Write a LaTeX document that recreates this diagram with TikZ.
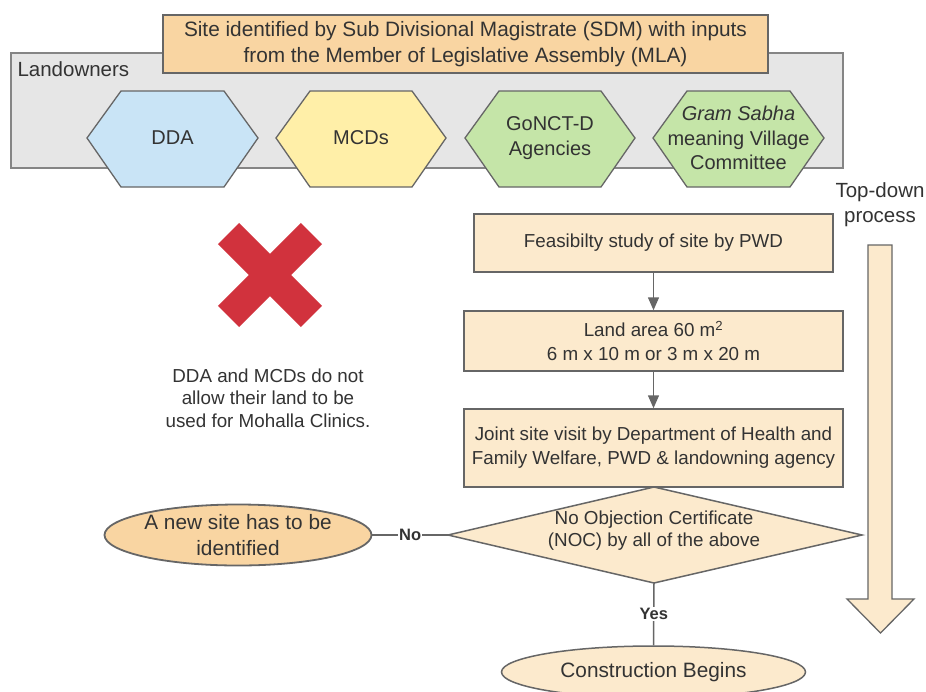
\documentclass[tikz,border=0pt]{standalone}
\usepackage{fontspec}
\setmainfont{Liberation Sans}
\usetikzlibrary{shapes.geometric,arrows.meta}
\definecolor{orng}{HTML}{F9D5A2}
\definecolor{lorng}{HTML}{FCEACD}
\definecolor{bluehex}{HTML}{C9E4F6}
\definecolor{yelhex}{HTML}{FFEFA8}
\definecolor{grnhex}{HTML}{C5E5A8}
\definecolor{grayfill}{HTML}{E6E6E6}
\definecolor{edge}{HTML}{666666}
\definecolor{txt}{HTML}{333333}
\definecolor{redx}{HTML}{D1323D}
\tikzset{
  bx/.style={draw=edge, line width=1.5pt, text=txt, align=center, inner sep=0pt},
  flowbox/.style={bx, fill=lorng, font=\fontsize{18.8}{24}\selectfont},
  hexshape/.style={draw=edge, line width=1.3pt},
  hextext/.style={text=txt, align=center, font=\fontsize{20}{24.5}\selectfont},
  conn/.style={draw=edge, line width=1.5pt},
  arr/.style={conn, -{Triangle[length=13pt,width=11pt]}},
  lbl/.style={fill=white, text=txt, font=\bfseries\fontsize{16.5}{18}\selectfont, inner sep=1pt}
}
\newcommand{\hexa}[6]{%
  \path[hexshape, fill=#5] (#2-#3,138) -- (#2-#3+#4,91) -- (#2+#3-#4,91) -- (#2+#3,138) -- (#2+#3-#4,187) -- (#2-#3+#4,187) -- cycle;
  \node[hextext] (#1) at (#2,138) {#6};}
\begin{document}
\begin{tikzpicture}[x=1pt,y=-1pt]
\useasboundingbox (0,0) rectangle (926,691);
\fill[white] (0,0) rectangle (926,691);

% landowners frame
\node[draw=edge!80, fill=grayfill, line width=1.3pt, minimum width=832pt, minimum height=115pt, inner sep=0pt] (land) at (427,110.5) {};
\node[anchor=west, text=txt, font=\fontsize{20.5}{22}\selectfont] (lown) at (14,69) {Landowners};

% top box
\node[bx, fill=orng, minimum width=605pt, minimum height=58pt, font=\fontsize{20.8}{26}\selectfont] (sdm) at (465.5,44) {Site identified by Sub Divisional Magistrate (SDM) with inputs\\from the Member of Legislative Assembly (MLA)};

% hexagons
\hexa{dda}{172.5}{85.5}{34}{bluehex}{DDA}
\hexa{mcd}{361}{85}{34}{yelhex}{MCDs}
\hexa{gnct}{550}{85}{34}{grnhex}{GoNCT-D\\Agencies}
\hexa{gram}{738.5}{85.5}{34}{grnhex}{\itshape Gram Sabha\\meaning Village\\Committee}

% red X
\draw[redx, line width=30pt] (228.6,233.6) -- (311.4,316.4);
\draw[redx, line width=30pt] (311.4,233.6) -- (228.6,316.4);
\node[text=txt, align=center, font=\fontsize{18.8}{22.5}\selectfont] (note) at (268,398) {DDA and MCDs do not\\allow their land to be\\used for Mohalla Clinics.};

% top-down arrow
\node[text=txt, align=center, font=\fontsize{20.5}{25}\selectfont] (td) at (880,205) {Top-down\\process};
\path[draw=edge, line width=1.3pt, fill=lorng] (868,245) -- (892,245) -- (892,599) -- (914,599) -- (880.5,633) -- (847,599) -- (868,599) -- cycle;

% flow
\node[flowbox, minimum width=359pt, minimum height=58pt] (feas) at (653.5,243) {Feasibilty study of site by PWD};
\node[flowbox, minimum width=379pt, minimum height=60pt] (area) at (653.5,341) {Land area 60 m\textsuperscript{2}\\6 m x 10 m or 3 m x 20 m};
\node[flowbox, minimum width=379pt, minimum height=78pt] (joint) at (653.5,448) {Joint site visit by Department of Health and\\Family Welfare, PWD \& landowning agency};

% decision diamond
\coordinate (dtop) at (654,487);
\coordinate (dright) at (862,535);
\coordinate (dbot) at (654,583);
\coordinate (dleft) at (448,535);
\path[draw=edge, line width=1.5pt, fill=lorng] (dtop) -- (dright) -- (dbot) -- (dleft) -- cycle;
\node[text=txt, align=center, font=\fontsize{18.8}{22}\selectfont] (noc) at (654,531) {No Objection Certificate\\(NOC) by all of the above};

\node[ellipse, draw=edge, line width=1.8pt, fill=orng, minimum width=267pt, minimum height=61pt, inner sep=0pt, text=txt, align=center, font=\fontsize{20.8}{26}\selectfont] (newsite) at (238,535) {A new site has to be\\identified};
\node[ellipse, draw=edge, line width=1.5pt, fill=lorng, minimum width=304pt, minimum height=52pt, inner sep=0pt, text=txt, font=\fontsize{20.8}{22}\selectfont] (cons) at (653.5,672) {Construction Begins};

\draw[arr] (feas.south) -- (area.north);
\draw[arr] (area.south) -- (joint.north);
\draw[conn] (newsite.east) -- node[lbl] {No} (dleft);
\draw[conn] (dbot) -- node[lbl, pos=0.5] {Yes} (cons.north);
\end{tikzpicture}
\end{document}
